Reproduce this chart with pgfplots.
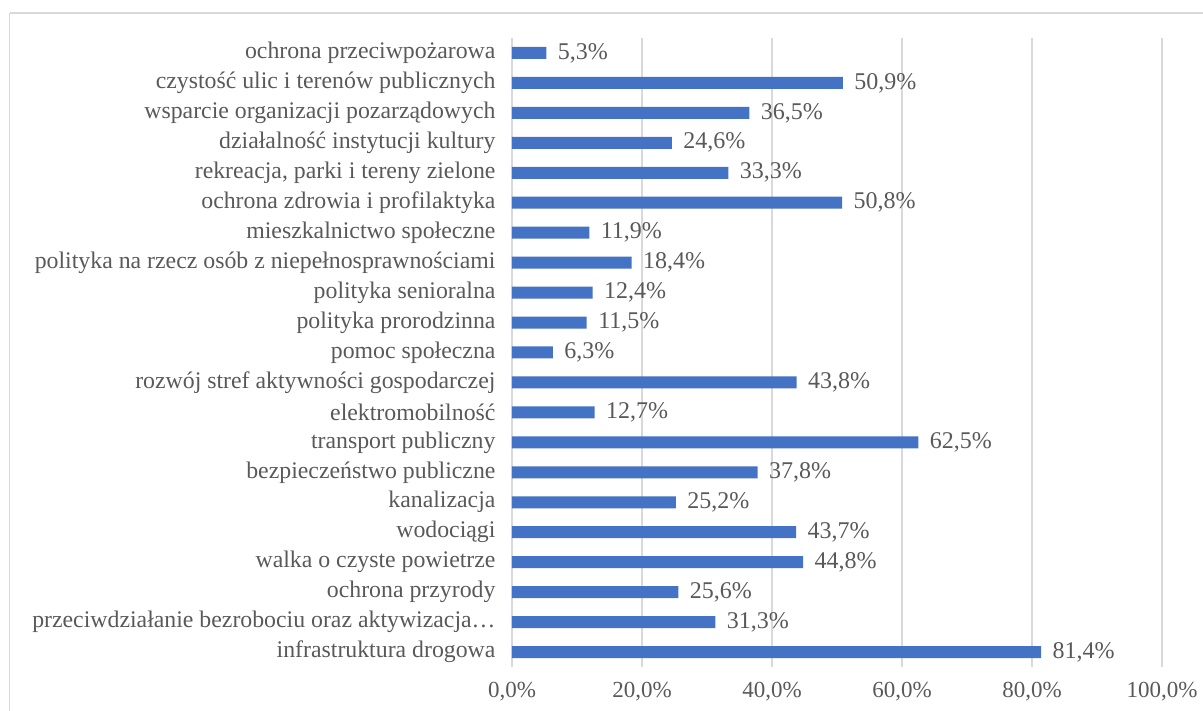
\documentclass[border=0pt]{standalone}
\usepackage{pgfplots}
\pgfplotsset{compat=1.18}
\usepackage{fontspec}
\setmainfont{Liberation Serif}
\definecolor{barblue}{HTML}{4472C4}
\definecolor{gridgray}{HTML}{D9D9D9}
\definecolor{txt}{HTML}{595959}
\begin{document}
\begin{tikzpicture}[x=1pt,y=1pt]
\useasboundingbox (0,0) rectangle (1203,711);
\draw[gridgray,line width=1.5pt] (9.5,698) -- (1230,698);
\draw[gridgray,line width=1.5pt] (9.5,698) -- (9.5,-30);
\begin{axis}[
  at={(512pt,44pt)}, anchor=south west,
  scale only axis, width=650pt, height=629pt,
  xmin=0, xmax=100, ymin=-0.5, ymax=20.5,
  xbar, bar width=12pt,
  axis line style={draw=none},
  xmajorgrids, major grid style={gridgray, line width=1.3pt},
  xtick={0,20,...,100},
  xticklabels={{0,0\%},{20,0\%},{40,0\%},{60,0\%},{80,0\%},{100,0\%}},
  ytick={0,...,20},
  yticklabels={
    {infrastruktura drogowa},
    {przeciwdziałanie bezrobociu oraz aktywizacja…},
    {ochrona przyrody},
    {walka o czyste powietrze},
    {wodociągi},
    {kanalizacja},
    {bezpieczeństwo publiczne},
    {transport publiczny},
    {elektromobilność},
    {rozwój stref aktywności gospodarczej},
    {pomoc społeczna},
    {polityka prorodzinna},
    {polityka senioralna},
    {polityka na rzecz osób z niepełnosprawnościami},
    {mieszkalnictwo społeczne},
    {ochrona zdrowia i profilaktyka},
    {rekreacja, parki i tereny zielone},
    {działalność instytucji kultury},
    {wsparcie organizacji pozarządowych},
    {czystość ulic i terenów publicznych},
    {ochrona przeciwpożarowa}},
  major tick length=0pt,
  xticklabel style={font=\fontsize{23}{27}\selectfont, text=txt, yshift=-12pt},
  yticklabel style={font=\fontsize{23.8}{28}\selectfont, text=txt, xshift=-13pt},
  /pgf/number format/assume math mode=true,
  point meta=x,
  nodes near coords={\pgfmathprintnumber[fixed,fixed zerofill,precision=1,use comma]{\pgfplotspointmeta}\%},
  nodes near coords style={font=\fontsize{24}{28}\selectfont, text=txt, anchor=west, xshift=8pt},
  clip=false,
]
\addplot[draw=none, fill=barblue] coordinates {
(81.4,0) (31.3,1) (25.6,2) (44.8,3) (43.7,4) (25.2,5) (37.8,6) (62.5,7)
(12.7,8) (43.8,9) (6.3,10) (11.5,11) (12.4,12) (18.4,13) (11.9,14)
(50.8,15) (33.3,16) (24.6,17) (36.5,18) (50.9,19) (5.3,20)
};
\end{axis}
\end{tikzpicture}
\end{document}
